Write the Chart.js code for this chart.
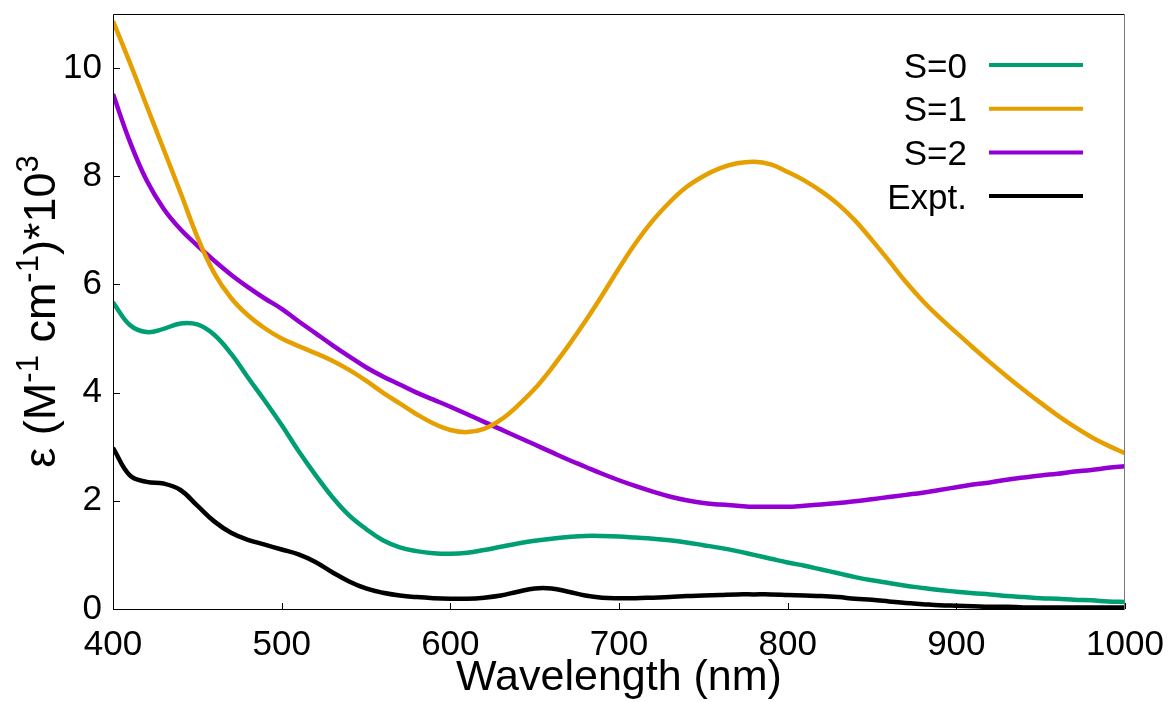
<!DOCTYPE html>
<html>
<head>
<meta charset="utf-8">
<script src="https://cdn.jsdelivr.net/npm/chart.js@4/dist/chart.umd.min.js"></script>
<style>
  body { margin: 0; background: #fff; }
  #wrap { width: 1176px; height: 702px; }
</style>
</head>
<body>
<div id="wrap"><canvas id="spectrum"></canvas></div>
<script>
const wavelengths = [400, 410, 420, 430, 440, 450, 460, 470, 480, 490, 500, 510, 520, 530, 540, 550, 560, 570, 580, 590,
  600, 610, 620, 630, 640, 650, 660, 670, 680, 690, 700, 710, 720, 730, 740, 750, 760, 770, 780, 790,
  800, 810, 820, 830, 840, 850, 860, 870, 880, 890, 900, 910, 920, 930, 940, 950, 960, 970, 980, 990, 1000];

const s0 = [5.67, 5.25, 5.12, 5.18, 5.28, 5.26, 5.07, 4.72, 4.28, 3.85, 3.40, 2.92, 2.48, 2.07, 1.73, 1.48, 1.27, 1.14, 1.07, 1.03,
  1.02, 1.04, 1.09, 1.15, 1.21, 1.26, 1.30, 1.33, 1.35, 1.35, 1.34, 1.32, 1.30, 1.27, 1.23, 1.18, 1.13, 1.07, 1.00, 0.93,
  0.86, 0.80, 0.73, 0.66, 0.59, 0.53, 0.48, 0.43, 0.39, 0.35, 0.32, 0.29, 0.27, 0.24, 0.22, 0.20, 0.19, 0.17, 0.16, 0.14, 0.13];

const s1 = [10.87, 10.10, 9.30, 8.50, 7.70, 6.88, 6.21, 5.75, 5.43, 5.19, 5.00, 4.86, 4.73, 4.59, 4.42, 4.22, 4.00, 3.80, 3.60, 3.43,
  3.31, 3.27, 3.33, 3.50, 3.76, 4.07, 4.45, 4.87, 5.32, 5.80, 6.30, 6.77, 7.18, 7.52, 7.80, 8.00, 8.15, 8.24, 8.27, 8.22,
  8.08, 7.92, 7.72, 7.48, 7.18, 6.82, 6.44, 6.05, 5.70, 5.39, 5.11, 4.83, 4.56, 4.30, 4.05, 3.81, 3.58, 3.37, 3.18, 3.02, 2.88];

const s2 = [9.52, 8.64, 7.92, 7.40, 7.02, 6.72, 6.44, 6.18, 5.95, 5.74, 5.55, 5.32, 5.10, 4.88, 4.67, 4.47, 4.30, 4.15, 4.00, 3.87,
  3.74, 3.60, 3.46, 3.32, 3.18, 3.04, 2.90, 2.76, 2.63, 2.50, 2.38, 2.27, 2.17, 2.08, 2.01, 1.96, 1.93, 1.91, 1.89, 1.89,
  1.89, 1.91, 1.93, 1.96, 1.99, 2.03, 2.07, 2.11, 2.15, 2.20, 2.25, 2.30, 2.34, 2.39, 2.43, 2.47, 2.50, 2.54, 2.57, 2.61, 2.64];

const expt = [2.98, 2.47, 2.35, 2.32, 2.20, 1.91, 1.62, 1.41, 1.28, 1.19, 1.10, 1.01, 0.87, 0.68, 0.51, 0.38, 0.30, 0.25, 0.22, 0.20,
  0.19, 0.19, 0.21, 0.25, 0.32, 0.38, 0.38, 0.32, 0.25, 0.21, 0.20, 0.20, 0.21, 0.22, 0.24, 0.25, 0.26, 0.27, 0.27, 0.27,
  0.26, 0.25, 0.24, 0.22, 0.19, 0.17, 0.14, 0.11, 0.09, 0.07, 0.06, 0.05, 0.04, 0.04, 0.03, 0.03, 0.03, 0.03, 0.03, 0.03, 0.03];

const labels = ['S=0', 'S=1', 'S=2', 'Expt.'];
const colors = ['#009e73', '#e69f00', '#9400d3', '#000000'];
const series = [s0, s1, s2, expt];

const xTicks = [400, 500, 600, 700, 800, 900, 1000];
const yTicks = [0, 2, 4, 6, 8, 10];

const FONT = "'Liberation Sans', Arial, sans-serif";

// box, inward ticks, key and axis titles in gnuplot style
const gnuplotFrame = {
  id: 'gnuplotFrame',
  afterDatasetsDraw(chart) {
    const { ctx, chartArea: a, scales: { x, y } } = chart;
    ctx.save();
    ctx.lineWidth = 1;
    ctx.strokeStyle = '#000';
    ctx.beginPath();
    xTicks.forEach(v => {
      const px = Math.round(x.getPixelForValue(v)) + 0.5;
      ctx.moveTo(px, a.bottom);
      ctx.lineTo(px, a.bottom - 6);
    });
    yTicks.forEach(v => {
      const py = Math.round(y.getPixelForValue(v)) + 0.5;
      ctx.moveTo(a.left, py);
      ctx.lineTo(a.left + 7, py);
    });
    ctx.stroke();

    const l = Math.round(a.left) + 0.5, r = Math.round(a.right) - 0.5;
    const t = Math.round(a.top) + 0.5, b = Math.round(a.bottom) + 0.5;
    ctx.beginPath();
    ctx.moveTo(r, t); ctx.lineTo(l, t); ctx.lineTo(l, b); ctx.lineTo(r, b);
    ctx.stroke();
    ctx.strokeStyle = '#777';
    ctx.beginPath();
    ctx.moveTo(r, t); ctx.lineTo(r, b);
    ctx.stroke();

    // key, text left of the sample line
    ctx.font = '35px ' + FONT;
    ctx.textAlign = 'right';
    ctx.textBaseline = 'alphabetic';
    chart.data.datasets.forEach((ds, i) => {
      const cy = a.top + 51 + i * 43.7;
      ctx.fillStyle = '#000';
      ctx.fillText(ds.label, a.right - 158, cy + 12.5);
      ctx.strokeStyle = ds.borderColor;
      ctx.lineWidth = 4;
      ctx.beginPath();
      ctx.moveTo(a.right - 136, cy);
      ctx.lineTo(a.right - 42, cy);
      ctx.stroke();
    });
    ctx.restore();
  },
  afterDraw(chart) {
    const { ctx, chartArea: a } = chart;
    ctx.save();
    ctx.fillStyle = '#000';
    ctx.font = '43px ' + FONT;
    ctx.textAlign = 'center';
    ctx.textBaseline = 'alphabetic';
    ctx.fillText('Wavelength (nm)', (a.left + a.right) / 2, 690);

    // y title with superscripts
    const parts = [['ε (M', false], ['-1', true], [' cm', false], ['-1', true], [')*10', false], ['3', true]];
    const main = '45px ' + FONT, sup = '31px ' + FONT;
    let total = 0;
    parts.forEach(([s, up]) => { ctx.font = up ? sup : main; total += ctx.measureText(s).width; });
    ctx.translate(55, (a.top + a.bottom) / 2);
    ctx.rotate(-Math.PI / 2);
    ctx.textAlign = 'left';
    let pos = -total / 2;
    parts.forEach(([s, up]) => {
      ctx.font = up ? sup : main;
      ctx.fillText(s, pos, up ? -17 : 0);
      pos += ctx.measureText(s).width;
    });
    ctx.restore();
  }
};

new Chart(document.getElementById('spectrum'), {
  type: 'line',
  data: {
    datasets: series.map((vals, i) => ({
      label: labels[i],
      data: wavelengths.map((w, j) => ({ x: w, y: vals[j] })),
      borderColor: colors[i],
      borderWidth: 4.5,
      pointRadius: 0,
      fill: false,
      tension: 0.4
    }))
  },
  options: {
    responsive: true,
    maintainAspectRatio: false,
    animation: false,
    layout: { padding: { top: 14, right: 51, left: 0, bottom: 0 } },
    plugins: { legend: { display: false }, tooltip: { enabled: false } },
    scales: {
      x: {
        type: 'linear',
        min: 400,
        max: 1000,
        afterBuildTicks: s => { s.ticks = xTicks.map(v => ({ value: v })); },
        afterFit: s => { s.height = 93; s.paddingLeft = 0; s.paddingRight = 0; },
        grid: { display: false, drawTicks: false },
        border: { display: false },
        ticks: { color: '#000', font: { family: FONT, size: 35 }, padding: 15, maxRotation: 0, autoSkip: false,
          callback: v => String(v) }
      },
      y: {
        type: 'linear',
        min: 0,
        max: 11,
        afterBuildTicks: s => { s.ticks = yTicks.map(v => ({ value: v })); },
        afterFit: s => { s.width = 113; s.paddingTop = 0; s.paddingBottom = 0; },
        grid: { display: false, drawTicks: false },
        border: { display: false },
        ticks: { color: '#000', font: { family: FONT, size: 35 }, padding: 11, callback: v => String(v) }
      }
    }
  },
  plugins: [gnuplotFrame]
});
</script>
</body>
</html>
